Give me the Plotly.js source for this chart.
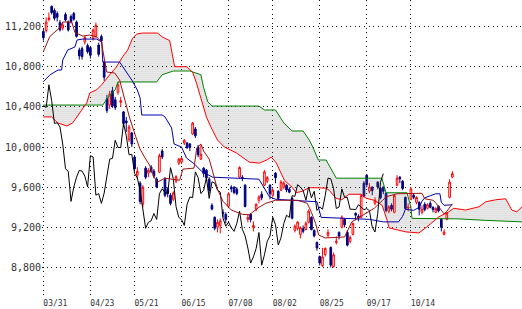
<!DOCTYPE html>
<html><head><meta charset="utf-8">
<script src="https://cdn.plot.ly/plotly-3.0.1.min.js"></script>
<style>html,body{margin:0;padding:0;background:#fff}#chart{width:522px;height:309px}</style>
</head><body><div id="chart"></div>
<script>
const tickIdx = [0,17,33,50,67,83,100,117,133];
const tickText = ['03/31','04/23','05/21','06/15','07/08','08/02','08/25','09/17','10/14'];

const open = [
11150,11160,11270,11400,11360,11330,11240,11185,11320,11245,
11300,11330,11245,10966,10980,11046,11010,10990,11080,11100,
11016,11100,10846,10480,10420,10560,10470,10545,10445,10350,
10260,10075,10140,9900,9720,9640,9430,9790,9740,9800,
9760,9680,9750,9960,9680,9580,9520,9480,9660,9840,
9850,10040,10040,10030,10130,10180,10000,9880,9790,9770,
9680,9420,9300,9200,9220,9350,9330,9410,9600,9600,
9580,9700,9700,9620,9280,9330,9200,9380,9470,9530,
9620,9660,9620,9520,9740,9560,9570,9600,9620,9580,
9490,9170,9190,9130,9190,9180,9250,9300,9170,9050,
8910,8820,8930,9120,9000,8810,9050,9150,9200,9280,
9150,9060,9130,9340,9310,9300,9640,9720,9560,9600,
9440,9650,9590,9600,9540,9360,9420,9350,9620,9700,
9660,9500,9390,9480,9520,9450,9450,9350,9430,9390,
9440,9400,9350,9410,9280,9130,9280,9500,9700];
const high = [
11175,11290,11340,11410,11380,11350,11265,11240,11340,11260,
11320,11345,11260,10990,11000,11110,11030,11000,11180,11240,
11040,11120,10860,10520,10560,10600,10500,10650,10500,10360,
10300,10220,10150,9920,9800,9660,9620,9810,9790,9820,
9780,9700,9935,9980,9700,9600,9540,9560,9720,9890,
9900,10080,10050,10040,10250,10200,10020,10020,9800,9780,
9700,9440,9310,9280,9290,9380,9350,9550,9620,9610,
9600,9810,9720,9630,9330,9340,9260,9440,9520,9560,
9770,9710,9630,9590,9750,9570,9670,9660,9630,9600,
9500,9230,9260,9210,9220,9260,9380,9310,9180,9060,
8920,8995,9000,9180,9010,8950,9110,9160,9320,9290,
9170,9120,9250,9350,9330,9530,9660,9730,9640,9610,
9500,9660,9600,9610,9550,9420,9440,9530,9720,9710,
9670,9505,9440,9600,9540,9510,9460,9420,9450,9440,
9460,9410,9400,9420,9290,9180,9350,9680,9760];
const low = [
11060,11140,11250,11320,11260,11250,11150,11160,11250,11150,
11230,11260,11090,10870,10870,11020,10930,10880,11060,11090,
10900,11030,10660,10340,10380,10390,10370,10520,10400,10200,
10150,10050,10000,9760,9680,9430,9400,9680,9700,9740,
9690,9590,9740,9880,9500,9500,9420,9460,9640,9820,
9830,10020,9980,9960,10120,10090,9900,9870,9700,9660,
9540,9370,9170,9150,9140,9300,9240,9400,9550,9530,
9520,9690,9660,9400,9250,9250,9160,9360,9440,9470,
9610,9640,9480,9500,9640,9470,9560,9580,9550,9540,
9280,9150,9170,9090,9140,9170,9240,9170,9100,8970,
8820,8805,8910,9100,8800,8800,9030,9080,9190,9200,
9010,9040,9120,9270,9260,9290,9500,9600,9540,9520,
9420,9580,9480,9530,9350,9340,9360,9340,9610,9640,
9570,9380,9360,9470,9480,9430,9320,9330,9360,9380,
9390,9350,9340,9350,9160,9120,9270,9490,9690];
const close = [
11089,11244,11286,11339,11282,11292,11168,11215,11265,11165,
11250,11273,11102,10908,10900,11090,10949,10914,11165,11212,
10924,11057,10695,10364,10530,10411,10394,10620,10462,10235,
10242,10200,10030,9784,9758,9459,9600,9700,9768,9760,
9711,9603,9914,9901,9520,9537,9439,9542,9705,9879,
9887,10067,9995,9995,10238,10112,9923,9928,9737,9693,
9570,9382,9191,9250,9266,9338,9279,9535,9585,9548,
9537,9795,9685,9408,9300,9278,9220,9430,9503,9496,
9753,9696,9537,9570,9694,9489,9653,9642,9572,9551,
9292,9212,9253,9196,9161,9240,9362,9179,9116,8995,
8845,8906,8991,9149,8824,8927,9062,9114,9301,9226,
9024,9098,9239,9321,9299,9516,9509,9626,9602,9566,
9471,9603,9495,9559,9369,9404,9381,9518,9691,9684,
9588,9388,9403,9583,9500,9498,9381,9381,9376,9426,
9401,9377,9387,9366,9202,9154,9340,9650,9735];

// Conversion line (tenkan) vertices: [bar index, value]
const tenkanX = [0,2.3,6,7,10.3,11.4,14.3,16.8,19.3,21.1,21.5,22.9,25.8,27.6,29.5,31.2,33,34.8,36.6,38.4,40.1,41.3,43.9,49.3,50.5,54.5,55.5,57,58,60,61.2,63,65,67,68,72,74.5,78,80.5,84,92,95.5,97,98.5,99.6,102,109,111.6,116.8,119.7,122.6,124,128,137,138,141,142,144,145,146,147,148];
const tenkanY = [10950,11100,11190,11245,11245,11140,11105,11115,11096,11046,10966,10747,10737,10667,10468,10290,10140,9990,9900,9820,9700,9650,9690,9670,9780,9790,9990,10030,9960,9880,9760,9580,9460,9400,9373,9330,9325,9400,9440,9470,9470,9440,9350,9240,9125,9095,9105,9255,9345,9390,9465,9505,9535,9540,9485,9470,9445,9365,9335,9360,9400,9435];
// Base line (kijun)
const kijunX = [0,2.3,5.3,6.6,7,8.8,11.4,12.2,14.3,19.3,21.1,21.5,27.6,28.7,30.5,32,34,35,35.6,43,44,46.4,47.3,50,51.8,54.7,57.2,61.2,78,80,81.8,84,99,100.5,118,123,128.5,130,131,134,136,137,138,140,142,143.5,144,145,148];
const kijunY = [10650,10717,10767,10767,10866,10966,10996,11066,11075,11075,11046,10846,10846,10800,10720,10667,10568,10488,10319,10319,10300,10190,10030,10000,9890,9830,9760,9700,9680,9595,9505,9480,9455,9300,9280,9255,9255,9310,9380,9370,9400,9460,9495,9515,9535,9535,9450,9420,9425];
// Leading span A
const spanAX = [0,3,5.2,8.5,10.6,13.2,15.7,16.8,19.3,21.1,22.9,24,26.5,28.7,30.5,32.3,33.8,35.9,41.3,43.1,45.7,46.7,47.5,51.8,54,55.4,57.2,59,60.8,63,65.5,69.9,74.5,78.2,80.7,82.5,84.3,86.1,87.2,90,91.5,93.7,96.2,98.7,102.3,103.4,105.9,108,110.6,115,116.8,119.7,122.6,124.4,125.1,131.2,135.9,138.8,143.1,146.7,148.5,152.8,157.6,160.1,163.7,167.3,169.5,171.3,173.2];
const spanAY = [10300,10300,10240,10210,10240,10340,10440,10540,10570,10620,10685,10720,10800,10900,10966,11085,11125,11135,11135,11095,11060,10900,10800,10800,10747,10637,10468,10299,10189,10070,10000,9940,9850,9840,9870,9900,9840,9740,9670,9600,9545,9560,9595,9595,9590,9570,9490,9475,9530,9530,9490,9470,9420,9270,9195,9155,9145,9205,9305,9355,9390,9373,9405,9455,9475,9485,9373,9355,9405];
// Leading span B
const spanBX = [0,21.5,23,26,27,41,43,47,53,57,58,59.5,61,78,80,84,87,90,94,96.2,97.5,98.5,99.5,102.3,104.5,106,122.5,124,131.6,133,133.4,150,160,173.2];
const spanBY = [10418,10418,10480,10570,10648,10648,10720,10757,10757,10720,10590,10450,10408,10408,10369,10369,10240,10160,10160,10070,10000,9940,9871,9871,9770,9690,9690,9545,9545,9400,9290,9285,9270,9255];

const bars = close.map((_, i) => i);
// lagging span: each close drawn 25 bars back
const lagX = [], lagY = [];
for (let i = 25; i < close.length; i++) { lagX.push(i - 25); lagY.push(close[i]); }

const traces = [
  {x: spanBX, y: spanBY, type:'scatter', mode:'lines', line:{color:'#008000', width:1}, hoverinfo:'skip'},
  {x: spanAX, y: spanAY, type:'scatter', mode:'lines', line:{color:'#ff0000', width:1}, fill:'tonexty',
   fillcolor:'rgba(255,255,255,0)',
   fillpattern:{shape:'.', fgcolor:'#6e6e6e', bgcolor:'rgba(255,255,255,0)', size:2, solidity:0.22}, hoverinfo:'skip'},
  {x: lagX, y: lagY, type:'scatter', mode:'lines', line:{color:'#000000', width:1}},
  {x: kijunX, y: kijunY, type:'scatter', mode:'lines', line:{color:'#0000b0', width:1}},
  {x: tenkanX, y: tenkanY, type:'scatter', mode:'lines', line:{color:'#a01010', width:1}},
  {x: bars, open: open, high: high, low: low, close: close, type:'candlestick', whiskerwidth:0,
   increasing:{line:{color:'#ff0000', width:1}, fillcolor:'#ffffff'},
   decreasing:{line:{color:'#000080', width:1}, fillcolor:'#000080'}}
];

const layout = {
  width:522, height:309,
  margin:{l:42, r:0, t:0, b:12, pad:0},
  paper_bgcolor:'#ffffff', plot_bgcolor:'#ffffff',
  showlegend:false,
  boxgap:0.15,
  xaxis:{range:[-0.5,173.2], tickvals:tickIdx, ticktext:tickText, showgrid:true, gridcolor:'#111', gridwidth:1,
         griddash:'1px,3.6px', zeroline:false, showline:false, ticks:'', ticklabelshift:12,
         tickfont:{family:'DejaVu Sans Mono', size:8, color:'#333'}, rangeslider:{visible:false}, fixedrange:true},
  yaxis:{range:[8507,11464], tick0:0, dtick:400, tickformat:',d', showgrid:true, gridcolor:'#111', gridwidth:1,
         griddash:'1px,3.6px', zeroline:false, showline:false, ticks:'',
         tickfont:{family:'DejaVu Sans Mono', size:10, color:'#333'}, fixedrange:true}
};
Plotly.newPlot('chart', traces, layout, {staticPlot:true, displayModeBar:false});
</script></body></html>
